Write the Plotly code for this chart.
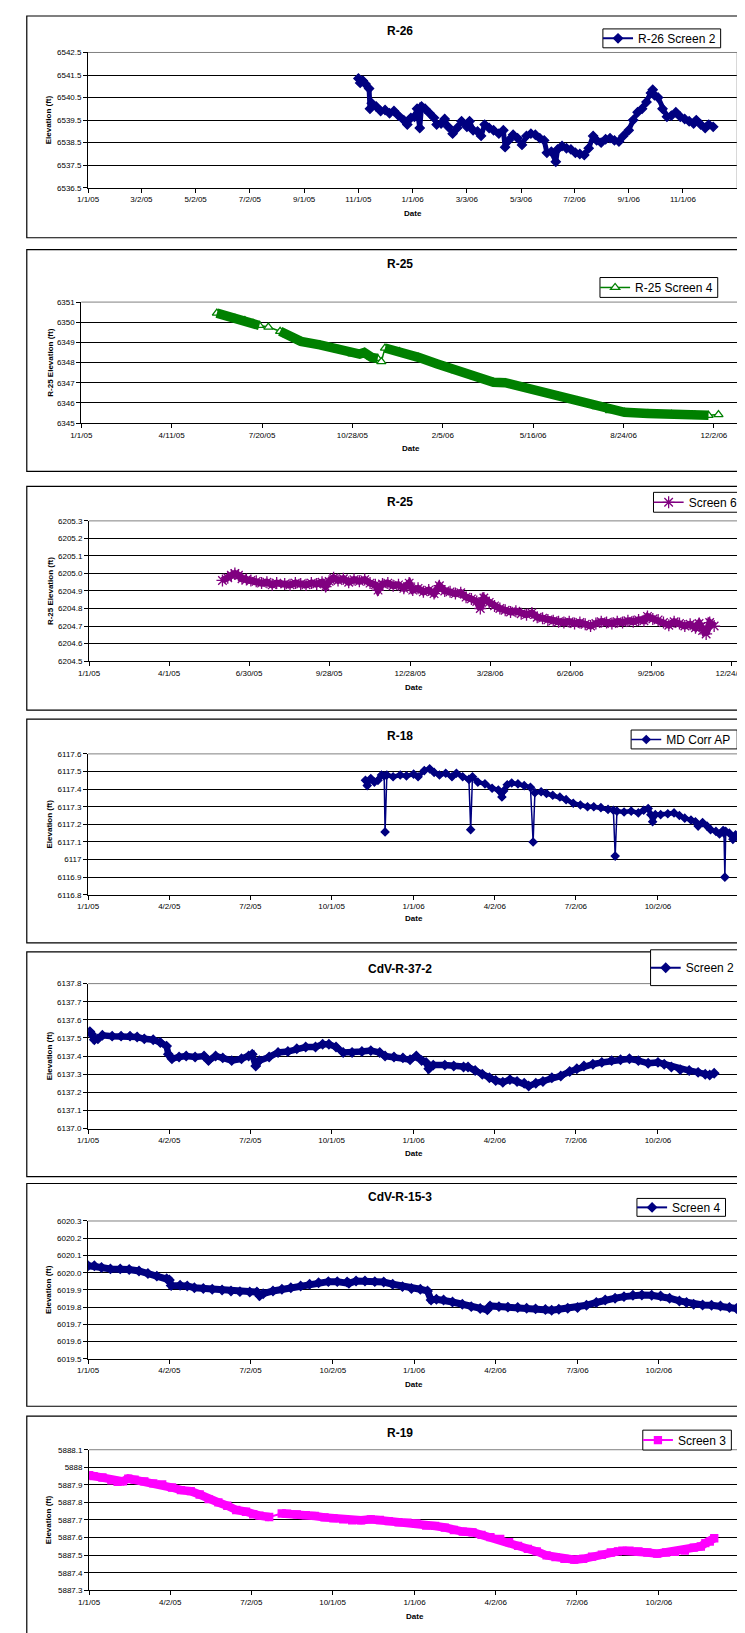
import plotly.graph_objects as go
from datetime import datetime

W, H = 745, 1633
FONT = "Liberation Sans, Arial, Helvetica, sans-serif"
X_RANGE = ["2005-01-01", "2007-01-01"]

# ----------------------------- DATA -----------------------------
# R-26 Screen 2
R26_DATES = [
    "2005-11-01", "2005-11-03", "2005-11-06", "2005-11-09", "2005-11-13", "2005-11-14", "2005-11-16", "2005-11-21", "2005-11-26", "2005-12-01",
    "2005-12-06", "2005-12-11", "2005-12-16", "2005-12-22", "2005-12-26", "2005-12-30", "2006-01-03", "2006-01-06", "2006-01-09", "2006-01-11",
    "2006-01-15", "2006-01-20", "2006-01-25", "2006-01-28", "2006-02-02", "2006-02-06", "2006-02-10", "2006-02-15", "2006-02-20", "2006-02-25",
    "2006-03-03", "2006-03-06", "2006-03-10", "2006-03-15", "2006-03-19", "2006-03-23", "2006-03-28", "2006-04-02", "2006-04-08", "2006-04-13",
    "2006-04-15", "2006-04-19", "2006-04-24", "2006-04-29", "2006-05-04", "2006-05-09", "2006-05-14", "2006-05-19", "2006-05-24", "2006-05-29",
    "2006-06-01", "2006-06-06", "2006-06-11", "2006-06-13", "2006-06-18", "2006-06-23", "2006-06-28", "2006-07-03", "2006-07-08", "2006-07-13",
    "2006-07-18", "2006-07-23", "2006-07-27", "2006-08-01", "2006-08-06", "2006-08-11", "2006-08-16", "2006-08-21", "2006-08-26", "2006-09-01",
    "2006-09-06", "2006-09-11", "2006-09-16", "2006-09-21", "2006-09-26", "2006-09-28", "2006-09-30", "2006-10-04", "2006-10-09", "2006-10-14",
    "2006-10-19", "2006-10-24", "2006-10-29", "2006-11-03", "2006-11-08", "2006-11-13", "2006-11-16", "2006-11-21", "2006-11-26", "2006-11-30",
    "2006-12-05",
]
R26_VALUES = [
    6541.35, 6541.15, 6541.25, 6541.1, 6540.9, 6540.0, 6540.25, 6540.1, 6539.9, 6539.95,
    6539.8, 6539.9, 6539.7, 6539.5, 6539.3, 6539.6, 6539.65, 6540.0, 6539.15, 6540.1,
    6540.0, 6539.8, 6539.6, 6539.3, 6539.35, 6539.55, 6539.2, 6538.9, 6539.15, 6539.45,
    6539.2, 6539.45, 6539.05, 6539.0, 6538.8, 6539.3, 6539.15, 6539.05, 6538.9, 6539.05,
    6538.3, 6538.6, 6538.85, 6538.7, 6538.4, 6538.8, 6538.9, 6538.85, 6538.7, 6538.6,
    6538.05, 6538.1, 6537.65, 6538.2, 6538.35, 6538.25, 6538.2, 6538.05, 6538.0, 6537.95,
    6538.25, 6538.8, 6538.6, 6538.5, 6538.65, 6538.7, 6538.6, 6538.55, 6538.8, 6539.05,
    6539.5, 6539.85, 6540.0, 6540.3, 6540.7, 6540.85, 6540.6, 6540.5, 6540.0, 6539.65,
    6539.7, 6539.85, 6539.65, 6539.55, 6539.45, 6539.35, 6539.5, 6539.3, 6539.15, 6539.3,
    6539.2,
]
R26_XTICKS = ["1/1/05", "3/2/05", "5/2/05", "7/2/05", "9/1/05", "11/1/05",
              "1/1/06", "3/3/06", "5/3/06", "7/2/06", "9/1/06", "11/1/06"]
R26_YTICKS = ["6536.5", "6537.5", "6538.5", "6539.5", "6540.5", "6541.5", "6542.5"]

# R-25 Screen 4
R25S4_DATES = [
    "2005-05-31", "2005-06-10", "2005-06-20", "2005-07-01", "2005-07-10", "2005-07-17", "2005-07-27", "2005-08-09", "2005-08-17", "2005-09-01",
    "2005-09-22", "2005-10-13", "2005-10-28", "2005-11-05", "2005-11-10", "2005-11-18", "2005-11-25", "2005-11-29", "2005-12-03", "2005-12-19",
    "2006-01-09", "2006-01-30", "2006-02-19", "2006-03-12", "2006-04-02", "2006-04-15", "2006-04-28", "2006-05-19", "2006-06-13", "2006-07-04",
    "2006-07-25", "2006-08-09", "2006-08-25", "2006-09-20", "2006-10-16", "2006-11-11", "2006-11-26", "2006-12-07",
]
R25S4_VALUES = [
    6350.45, 6350.3, 6350.2, 6350.08, 6349.95, 6349.84, 6349.76, 6349.55, 6349.37, 6349.05,
    6348.88, 6348.65, 6348.43, 6348.42, 6348.5, 6348.26, 6348.2, 6348.05, 6348.72, 6348.55,
    6348.26, 6347.93, 6347.6, 6347.3, 6347.02, 6347.0, 6346.85, 6346.57, 6346.32, 6346.1,
    6345.82, 6345.62, 6345.53, 6345.47, 6345.43, 6345.4, 6345.38, 6345.42,
]
R25S4_GAPS = [("2005-07-18", "2005-08-08"), ("2005-11-26", "2005-12-02"), ("2006-11-27", "2006-12-31")]
R25S4_XTICKS = ["1/1/05", "4/11/05", "7/20/05", "10/28/05", "2/5/06", "5/16/06", "8/24/06", "12/2/06"]
R25S4_YTICKS = ["6345", "6346", "6347", "6348", "6349", "6350", "6351"]

# R-25 Screen 6
R25S6_DATES = [
    "2005-05-31", "2005-06-06", "2005-06-10", "2005-06-14", "2005-06-18", "2005-06-22", "2005-06-27", "2005-07-02", "2005-07-08", "2005-07-14",
    "2005-07-20", "2005-07-26", "2005-07-31", "2005-08-09", "2005-08-15", "2005-08-21", "2005-08-27", "2005-09-02", "2005-09-08", "2005-09-14",
    "2005-09-20", "2005-09-24", "2005-09-28", "2005-10-03", "2005-10-08", "2005-10-14", "2005-10-20", "2005-10-26", "2005-11-01", "2005-11-07",
    "2005-11-13", "2005-11-19", "2005-11-22", "2005-11-27", "2005-12-03", "2005-12-09", "2005-12-15", "2005-12-21", "2005-12-27", "2005-12-31",
    "2006-01-06", "2006-01-12", "2006-01-18", "2006-01-24", "2006-01-30", "2006-02-05", "2006-02-11", "2006-02-17", "2006-02-23", "2006-03-01",
    "2006-03-07", "2006-03-13", "2006-03-17", "2006-03-21", "2006-03-27", "2006-04-02", "2006-04-08", "2006-04-14", "2006-04-20", "2006-04-26",
    "2006-05-02", "2006-05-08", "2006-05-14", "2006-05-20", "2006-05-26", "2006-06-01", "2006-06-07", "2006-06-13", "2006-06-19", "2006-06-25",
    "2006-07-01", "2006-07-07", "2006-07-13", "2006-07-19", "2006-07-25", "2006-07-31", "2006-08-06", "2006-08-12", "2006-08-18", "2006-08-24",
    "2006-08-30", "2006-09-05", "2006-09-11", "2006-09-17", "2006-09-21", "2006-09-27", "2006-10-03", "2006-10-09", "2006-10-15", "2006-10-21",
    "2006-10-27", "2006-11-02", "2006-11-08", "2006-11-14", "2006-11-18", "2006-11-22", "2006-11-26", "2006-11-30", "2006-12-05",
]
R25S6_VALUES = [
    6204.96, 6204.975, 6204.99, 6205.0, 6204.99, 6204.97, 6204.965, 6204.96, 6204.955, 6204.945,
    6204.95, 6204.935, 6204.945, 6204.94, 6204.935, 6204.945, 6204.94, 6204.935, 6204.945, 6204.94,
    6204.95, 6204.925, 6204.955, 6204.975, 6204.96, 6204.97, 6204.95, 6204.965, 6204.955, 6204.965,
    6204.945, 6204.935, 6204.905, 6204.94, 6204.945, 6204.93, 6204.935, 6204.915, 6204.945, 6204.905,
    6204.915, 6204.895, 6204.905, 6204.885, 6204.93, 6204.9, 6204.895, 6204.885, 6204.89, 6204.865,
    6204.855, 6204.84, 6204.8, 6204.86, 6204.835, 6204.815, 6204.8, 6204.79, 6204.78, 6204.785,
    6204.77, 6204.765, 6204.775, 6204.75, 6204.745, 6204.735, 6204.73, 6204.725, 6204.72, 6204.725,
    6204.715, 6204.72, 6204.71, 6204.7, 6204.715, 6204.725, 6204.72, 6204.715, 6204.725, 6204.72,
    6204.73, 6204.725, 6204.735, 6204.73, 6204.755, 6204.74, 6204.735, 6204.72, 6204.705, 6204.725,
    6204.715, 6204.7, 6204.71, 6204.69, 6204.715, 6204.675, 6204.655, 6204.72, 6204.7,
]
R25S6_XTICKS = ["1/1/05", "4/1/05", "6/30/05", "9/28/05", "12/28/05", "3/28/06", "6/26/06", "9/25/06", "12/24/06"]
R25S6_YTICKS = ["6204.5", "6204.6", "6204.7", "6204.8", "6204.9", "6205.0", "6205.1", "6205.2", "6205.3"]

# R-18 MD Corr AP
R18_DATES = [
    "2005-11-08", "2005-11-10", "2005-11-14", "2005-11-18", "2005-11-22", "2005-11-26", "2005-11-29", "2005-11-30", "2005-12-02", "2005-12-09",
    "2005-12-17", "2005-12-24", "2006-01-01", "2006-01-06", "2006-01-13", "2006-01-19", "2006-01-24", "2006-01-30", "2006-02-06", "2006-02-13",
    "2006-02-18", "2006-02-25", "2006-03-04", "2006-03-06", "2006-03-08", "2006-03-14", "2006-03-22", "2006-03-30", "2006-04-06", "2006-04-10",
    "2006-04-12", "2006-04-16", "2006-04-21", "2006-04-28", "2006-05-05", "2006-05-12", "2006-05-15", "2006-05-17", "2006-05-24", "2006-05-30",
    "2006-06-06", "2006-06-14", "2006-06-21", "2006-06-29", "2006-07-07", "2006-07-15", "2006-07-22", "2006-07-30", "2006-08-07", "2006-08-13",
    "2006-08-15", "2006-08-17", "2006-08-25", "2006-09-02", "2006-09-10", "2006-09-16", "2006-09-21", "2006-09-24", "2006-09-26", "2006-09-29",
    "2006-10-05", "2006-10-13", "2006-10-20", "2006-10-26", "2006-11-01", "2006-11-08", "2006-11-13", "2006-11-16", "2006-11-21", "2006-11-26",
    "2006-11-30", "2006-12-06", "2006-12-10", "2006-12-14", "2006-12-15", "2006-12-16", "2006-12-17", "2006-12-21", "2006-12-25", "2006-12-28",
    "2006-12-31",
]
R18_VALUES = [
    6117.45, 6117.42, 6117.46, 6117.44, 6117.45, 6117.48, 6117.475, 6117.157, 6117.48, 6117.47,
    6117.48, 6117.475, 6117.485, 6117.47, 6117.505, 6117.515, 6117.495, 6117.48, 6117.49, 6117.47,
    6117.49, 6117.47, 6117.455, 6117.17, 6117.47, 6117.44, 6117.43, 6117.405, 6117.395, 6117.355,
    6117.39, 6117.425, 6117.435, 6117.43, 6117.42, 6117.41, 6117.1, 6117.38, 6117.385, 6117.375,
    6117.365, 6117.355, 6117.34, 6117.32, 6117.31, 6117.3, 6117.3, 6117.295, 6117.285, 6117.28,
    6117.02, 6117.275, 6117.27, 6117.275, 6117.265, 6117.28, 6117.29, 6117.255, 6117.215, 6117.255,
    6117.255, 6117.26, 6117.265, 6117.25, 6117.235, 6117.225, 6117.215, 6117.19, 6117.21, 6117.19,
    6117.17, 6117.16, 6117.145, 6117.165, 6117.15, 6116.9, 6117.16, 6117.15, 6117.115, 6117.14,
    6117.125,
]
R18_GAPS = [("2005-11-30", "2005-11-30"), ("2006-03-06", "2006-03-06"), ("2006-05-15", "2006-05-15"),
            ("2006-08-15", "2006-08-15"), ("2006-12-16", "2006-12-16")]
QTR_XTICKS = ["1/1/05", "4/2/05", "7/2/05", "10/1/05", "1/1/06", "4/2/06", "7/2/06", "10/2/06"]
R18_YTICKS = ["6116.8", "6116.9", "6117", "6117.1", "6117.2", "6117.3", "6117.4", "6117.5", "6117.6"]

# CdV-R-37-2 Screen 2
CDV37_DATES = [
    "2005-01-03", "2005-01-05", "2005-01-08", "2005-01-12", "2005-01-17", "2005-01-28", "2005-02-07", "2005-02-17", "2005-02-25", "2005-03-05",
    "2005-03-15", "2005-03-23", "2005-03-30", "2005-04-01", "2005-04-05", "2005-04-13", "2005-04-21", "2005-05-01", "2005-05-11", "2005-05-16",
    "2005-05-24", "2005-06-01", "2005-06-11", "2005-06-22", "2005-06-30", "2005-07-04", "2005-07-08", "2005-07-12", "2005-07-23", "2005-08-02",
    "2005-08-13", "2005-08-23", "2005-09-02", "2005-09-13", "2005-09-21", "2005-09-28", "2005-10-06", "2005-10-14", "2005-10-24", "2005-11-04",
    "2005-11-14", "2005-11-24", "2005-11-30", "2005-12-10", "2005-12-20", "2005-12-28", "2006-01-04", "2006-01-10", "2006-01-15", "2006-01-18",
    "2006-01-23", "2006-02-05", "2006-02-15", "2006-02-26", "2006-03-03", "2006-03-11", "2006-03-19", "2006-03-27", "2006-04-03", "2006-04-11",
    "2006-04-19", "2006-04-27", "2006-05-05", "2006-05-10", "2006-05-18", "2006-05-26", "2006-06-05", "2006-06-15", "2006-06-25", "2006-07-03",
    "2006-07-11", "2006-07-21", "2006-07-31", "2006-08-11", "2006-08-21", "2006-08-31", "2006-09-10", "2006-09-21", "2006-10-02", "2006-10-09",
    "2006-10-17", "2006-10-27", "2006-11-06", "2006-11-16", "2006-11-24", "2006-11-29", "2006-12-04",
]
CDV37_VALUES = [
    6137.535, 6137.52, 6137.49, 6137.495, 6137.515, 6137.51, 6137.51, 6137.51, 6137.505, 6137.495,
    6137.49, 6137.475, 6137.455, 6137.41, 6137.385, 6137.395, 6137.4, 6137.395, 6137.4, 6137.375,
    6137.4, 6137.39, 6137.375, 6137.385, 6137.4, 6137.41, 6137.345, 6137.375, 6137.395, 6137.42,
    6137.425, 6137.44, 6137.45, 6137.45, 6137.465, 6137.465, 6137.45, 6137.42, 6137.42, 6137.425,
    6137.43, 6137.42, 6137.4, 6137.395, 6137.39, 6137.38, 6137.4, 6137.375, 6137.365, 6137.33,
    6137.35, 6137.35, 6137.345, 6137.34, 6137.34, 6137.32, 6137.3, 6137.28, 6137.265, 6137.255,
    6137.27, 6137.26, 6137.25, 6137.235, 6137.25, 6137.26, 6137.28, 6137.29, 6137.315, 6137.33,
    6137.345, 6137.355, 6137.365, 6137.375, 6137.38, 6137.385, 6137.375, 6137.36, 6137.365, 6137.355,
    6137.34, 6137.325, 6137.32, 6137.31, 6137.3, 6137.295, 6137.305,
]
CDV37_YTICKS = ["6137.0", "6137.1", "6137.2", "6137.3", "6137.4", "6137.5", "6137.6", "6137.7", "6137.8"]

# CdV-R-15-3 Screen 4
CDV15_DATES = [
    "2005-01-01", "2005-01-08", "2005-01-16", "2005-01-26", "2005-02-06", "2005-02-16", "2005-02-27", "2005-03-09", "2005-03-19", "2005-03-30",
    "2005-04-02", "2005-04-04", "2005-04-14", "2005-04-22", "2005-04-30", "2005-05-10", "2005-05-20", "2005-05-31", "2005-06-10", "2005-06-20",
    "2005-07-01", "2005-07-09", "2005-07-12", "2005-07-16", "2005-07-27", "2005-08-06", "2005-08-16", "2005-08-27", "2005-09-06", "2005-09-16",
    "2005-09-27", "2005-10-07", "2005-10-18", "2005-10-20", "2005-10-28", "2005-11-07", "2005-11-18", "2005-11-28", "2005-12-08", "2005-12-19",
    "2005-12-29", "2006-01-08", "2006-01-16", "2006-01-20", "2006-01-26", "2006-02-03", "2006-02-13", "2006-02-24", "2006-03-06", "2006-03-16",
    "2006-03-24", "2006-03-27", "2006-04-06", "2006-04-16", "2006-04-27", "2006-05-07", "2006-05-17", "2006-05-28", "2006-06-04", "2006-06-12",
    "2006-06-22", "2006-07-03", "2006-07-13", "2006-07-24", "2006-08-03", "2006-08-14", "2006-08-24", "2006-09-03", "2006-09-13", "2006-09-24",
    "2006-10-04", "2006-10-14", "2006-10-25", "2006-11-02", "2006-11-10", "2006-11-20", "2006-11-30", "2006-12-10", "2006-12-20", "2006-12-28",
]
CDV15_VALUES = [
    6020.04, 6020.04, 6020.03, 6020.022, 6020.022, 6020.018, 6020.01, 6019.995, 6019.98, 6019.965,
    6019.958, 6019.925, 6019.927, 6019.923, 6019.913, 6019.908, 6019.904, 6019.9, 6019.894, 6019.89,
    6019.888, 6019.888, 6019.866, 6019.878, 6019.894, 6019.904, 6019.913, 6019.923, 6019.933, 6019.942,
    6019.948, 6019.948, 6019.946, 6019.938, 6019.952, 6019.952, 6019.948, 6019.946, 6019.933, 6019.919,
    6019.908, 6019.904, 6019.894, 6019.842, 6019.846, 6019.842, 6019.83, 6019.817, 6019.803, 6019.792,
    6019.784, 6019.807, 6019.803, 6019.8, 6019.798, 6019.794, 6019.79, 6019.786, 6019.782, 6019.788,
    6019.794, 6019.798, 6019.811, 6019.827, 6019.842, 6019.852, 6019.861, 6019.869, 6019.871, 6019.869,
    6019.865, 6019.852, 6019.836, 6019.827, 6019.817, 6019.813, 6019.811, 6019.807, 6019.798, 6019.792,
]
CDV15_XTICKS = ["1/1/05", "4/2/05", "7/2/05", "10/2/05", "1/1/06", "4/2/06", "7/3/06", "10/2/06"]
CDV15_YTICKS = ["6019.5", "6019.6", "6019.7", "6019.8", "6019.9", "6020.0", "6020.1", "6020.2", "6020.3"]

# R-19 Screen 3
R19_DATES = [
    "2005-01-01", "2005-01-06", "2005-01-16", "2005-01-26", "2005-02-02", "2005-02-08", "2005-02-14", "2005-02-21", "2005-03-04", "2005-03-14",
    "2005-03-24", "2005-04-04", "2005-04-14", "2005-04-25", "2005-05-05", "2005-05-15", "2005-05-26", "2005-06-05", "2005-06-15", "2005-06-26",
    "2005-07-04", "2005-07-11", "2005-07-22", "2005-08-05", "2005-08-11", "2005-08-22", "2005-09-01", "2005-09-11", "2005-09-22", "2005-10-02",
    "2005-10-13", "2005-10-23", "2005-11-02", "2005-11-13", "2005-11-23", "2005-12-03", "2005-12-14", "2005-12-24", "2006-01-03", "2006-01-14",
    "2006-01-24", "2006-02-04", "2006-02-14", "2006-02-24", "2006-03-07", "2006-03-17", "2006-03-27", "2006-04-07", "2006-04-17", "2006-04-27",
    "2006-05-08", "2006-05-18", "2006-05-29", "2006-06-08", "2006-06-18", "2006-06-29", "2006-07-09", "2006-07-19", "2006-07-30", "2006-08-09",
    "2006-08-17", "2006-08-22", "2006-08-30", "2006-09-09", "2006-09-19", "2006-09-30", "2006-10-10", "2006-10-20", "2006-10-31", "2006-11-10",
    "2006-11-18", "2006-11-23", "2006-11-28", "2006-12-03",
]
R19_VALUES = [
    5887.955, 5887.95, 5887.942, 5887.926, 5887.917, 5887.92, 5887.936, 5887.93, 5887.92, 5887.908,
    5887.902, 5887.885, 5887.87, 5887.864, 5887.845, 5887.819, 5887.8, 5887.781, 5887.757, 5887.747,
    5887.732, 5887.725, 5887.717, 5887.737, 5887.736, 5887.732, 5887.728, 5887.723, 5887.715, 5887.709,
    5887.704, 5887.698, 5887.698, 5887.704, 5887.7, 5887.694, 5887.687, 5887.685, 5887.681, 5887.668,
    5887.666, 5887.657, 5887.643, 5887.634, 5887.63, 5887.615, 5887.602, 5887.592, 5887.574, 5887.553,
    5887.536, 5887.521, 5887.498, 5887.489, 5887.479, 5887.474, 5887.479, 5887.492, 5887.502, 5887.515,
    5887.521, 5887.525, 5887.525, 5887.521, 5887.515, 5887.508, 5887.515, 5887.519, 5887.526, 5887.543,
    5887.549, 5887.568, 5887.577, 5887.596,
]
R19_GAPS = [("2005-07-23", "2005-08-04"), ("2006-08-18", "2006-08-21")]
R19_YTICKS = ["5887.3", "5887.4", "5887.5", "5887.6", "5887.7", "5887.8", "5887.9", "5888", "5888.1"]

# ----------------------------- LAYOUT CONFIG -----------------------------
NAVY, GREEN, PURPLE, MAGENTA = "#000080", "#008000", "#800080", "#FF00FF"

PANELS = [
    dict(title="R-26", ytitle="Elevation (ft)", name="R-26 Screen 2",
         dates=R26_DATES, values=R26_VALUES, gaps=[], xt=R26_XTICKS, yt=R26_YTICKS,
         box=(4, 227), plot=(71, 738, 40.7, 176.7), title_y=19, date_y=203, ytitle_x=30,
         leg=(600, 721, 17, 36),
         style=dict(color=NAVY, symbol="diamond", msize=7, mfill=NAVY, lw=2, band=5)),
    dict(title="R-25", ytitle="R-25 Elevation (ft)", name="R-25 Screen 4",
         dates=R25S4_DATES, values=R25S4_VALUES, gaps=R25S4_GAPS, xt=R25S4_XTICKS, yt=R25S4_YTICKS,
         box=(239, 462), plot=(64, 742, 291.7, 413.3), title_y=253, date_y=439, ytitle_x=32,
         leg=(597, 718, 267, 287),
         style=dict(color=GREEN, symbol="triangle-up", msize=8, mfill="white", lw=1.5, band=9.5)),
    dict(title="R-25", ytitle="R-25 Elevation (ft)", name="Screen 6",
         dates=R25S6_DATES, values=R25S6_VALUES, gaps=[], xt=R25S6_XTICKS, yt=R25S6_YTICKS,
         box=(477, 702), plot=(72, 739, 511.7, 652.7), title_y=493, date_y=679, ytitle_x=33,
         leg=(652, 770, 483, 503),
         style=dict(color=PURPLE, symbol="asterisk-open", msize=10, mfill=PURPLE, lw=1.5, band=7)),
    dict(title="R-18", ytitle="Elevation (ft)", name="MD Corr AP",
         dates=R18_DATES, values=R18_VALUES, gaps=R18_GAPS, xt=QTR_XTICKS, yt=R18_YTICKS,
         box=(711, 936), plot=(71, 740, 746, 887.7), title_y=728, date_y=912, ytitle_x=31,
         leg=(629, 738, 722, 741),
         style=dict(color=NAVY, symbol="diamond", msize=6, mfill=NAVY, lw=1.5, band=4.5)),
    dict(title="CdV-R-37-2", ytitle="Elevation (ft)", name="Screen 2",
         dates=CDV37_DATES, values=CDV37_VALUES, gaps=[], xt=QTR_XTICKS, yt=CDV37_YTICKS,
         box=(945, 1171), plot=(71, 740, 977, 1122.7), title_y=962, date_y=1148, ytitle_x=31,
         leg=(649, 770, 943, 979),
         style=dict(color=NAVY, symbol="diamond", msize=7, mfill=NAVY, lw=2, band=6.5)),
    dict(title="CdV-R-15-3", ytitle="Elevation (ft)", name="Screen 4",
         dates=CDV15_DATES, values=CDV15_VALUES, gaps=[], xt=CDV15_XTICKS, yt=CDV15_YTICKS,
         box=(1178, 1402), plot=(71, 741, 1215.7, 1354.3), title_y=1192, date_y=1380, ytitle_x=31,
         leg=(635, 726, 1193, 1211),
         style=dict(color=NAVY, symbol="diamond", msize=7, mfill=NAVY, lw=2, band=7)),
    dict(title="R-19", ytitle="Elevation (ft)", name="Screen 3",
         dates=R19_DATES, values=R19_VALUES, gaps=R19_GAPS, xt=QTR_XTICKS, yt=R19_YTICKS,
         box=(1412, 1660), plot=(72, 741, 1445.7, 1587), title_y=1429, date_y=1613, ytitle_x=31,
         leg=(641, 732, 1426, 1446),
         style=dict(color=MAGENTA, symbol="square", msize=7, mfill=MAGENTA, lw=2, band=8.5)),
]

for p in PANELS:
    assert len(p["dates"]) == len(p["values"]), p["name"]


def px(xp):
    return xp / W


def py(yp):
    return 1 - yp / H


def tick_dates(labels):
    return [datetime.strptime(s, "%m/%d/%y").strftime("%Y-%m-%d") for s in labels]


def in_gap(d, gaps):
    return any(g0 <= d <= g1 for g0, g1 in gaps)


def band_segments(dates, values, gaps):
    segs, cur, prev = [], [], None
    for d, v in zip(dates, values):
        if in_gap(d, gaps):
            if cur:
                segs.append(cur)
            cur, prev = [], None
            continue
        if cur and any(prev < g0 and g1 < d for g0, g1 in gaps):
            segs.append(cur)
            cur = []
        cur.append((d, v))
        prev = d
    if cur:
        segs.append(cur)
    return segs


fig = go.Figure()
shapes, annotations = [], []
layout = {}

for i, p in enumerate(PANELS, start=1):
    sfx = "" if i == 1 else str(i)
    xa, ya = "x" + sfx, "y" + sfx
    leg_id = "legend" + sfx
    st = p["style"]
    x0, x1, y0, y1 = p["plot"]

    # dense logging shown as a thick band
    band_traces = []
    if st["band"]:
        for seg in band_segments(p["dates"], p["values"], p["gaps"] or []):
            band_traces.append(go.Scatter(
                x=[d for d, _ in seg], y=[v for _, v in seg], mode="lines",
                xaxis=xa, yaxis=ya, showlegend=False, hoverinfo="skip",
                line=dict(color=st["color"], width=st["band"])))

    marker = dict(symbol=st["symbol"], size=st["msize"], color=st["mfill"],
                  line=dict(color=st["color"], width=1.3))
    main = go.Scatter(
        x=p["dates"], y=p["values"], mode="lines+markers", name=p["name"],
        xaxis=xa, yaxis=ya, legend=leg_id, showlegend=True,
        line=dict(color=st["color"], width=st["lw"]), marker=marker, hoverinfo="skip")

    if st["symbol"].startswith("asterisk"):
        for t in band_traces:
            fig.add_trace(t)
        fig.add_trace(main)
    else:
        fig.add_trace(main)
        for t in band_traces:
            fig.add_trace(t)

    yvals = [float(t) for t in p["yt"]]
    tickfont = dict(size=8, family=FONT, color="black")
    layout["xaxis" + sfx] = dict(
        domain=[px(x0), px(x1)], anchor=ya, type="date", range=X_RANGE,
        tickvals=tick_dates(p["xt"]), ticktext=p["xt"], tickmode="array",
        ticks="outside", ticklen=4, tickwidth=1, tickcolor="black",
        showline=True, linecolor="black", linewidth=1, showgrid=False, zeroline=False,
        tickfont=tickfont, ticklabeloverflow="allow", fixedrange=True)
    layout["yaxis" + sfx] = dict(
        domain=[py(y1), py(y0)], anchor=xa, range=[min(yvals), max(yvals)],
        tickvals=yvals, ticktext=p["yt"], tickmode="array",
        ticks="outside", ticklen=4, tickwidth=1, tickcolor="black",
        showline=True, linecolor="black", linewidth=1,
        showgrid=True, gridcolor="black", gridwidth=1, zeroline=False,
        tickfont=tickfont, fixedrange=True)

    # chart border (right side runs off the page)
    bt, bb = p["box"]
    shapes.append(dict(type="rect", xref="paper", yref="paper", x0=px(8), x1=px(775),
                       y0=py(bb), y1=py(bt), line=dict(color="black", width=1.2),
                       fillcolor="rgba(0,0,0,0)", layer="below"))
    # grey plot-area frame (top & right)
    shapes.append(dict(type="line", xref="paper", yref="paper", x0=px(x0), x1=px(x1),
                       y0=py(y0), y1=py(y0), line=dict(color="#808080", width=1), layer="above"))
    shapes.append(dict(type="line", xref="paper", yref="paper", x0=px(x1), x1=px(x1),
                       y0=py(y1), y1=py(y0), line=dict(color="#808080", width=1), layer="above"))
    # legend box
    lx0, lx1, ly0, ly1 = p["leg"]
    shapes.append(dict(type="rect", xref="paper", yref="paper", x0=px(lx0), x1=px(lx1),
                       y0=py(ly1), y1=py(ly0), line=dict(color="black", width=1),
                       fillcolor="white", layer="above"))
    layout[leg_id] = dict(x=px(lx0 - 5), y=py((ly0 + ly1) / 2), xanchor="left", yanchor="middle",
                          bgcolor="rgba(0,0,0,0)", borderwidth=0, itemwidth=30,
                          font=dict(size=12, family=FONT, color="black"))

    # texts
    annotations.append(dict(text="<b>%s</b>" % p["title"], xref="paper", yref="paper",
                            x=px(392), y=py(p["title_y"]), xanchor="center", yanchor="middle",
                            showarrow=False, font=dict(size=12, family=FONT, color="black")))
    annotations.append(dict(text="<b>Date</b>", xref="paper", yref="paper",
                            x=px((x0 + x1) / 2), y=py(p["date_y"]), xanchor="center", yanchor="middle",
                            showarrow=False, font=dict(size=8, family=FONT, color="black")))
    annotations.append(dict(text="<b>%s</b>" % p["ytitle"], xref="paper", yref="paper",
                            x=px(p["ytitle_x"]), y=py((y0 + y1) / 2), xanchor="center", yanchor="middle",
                            textangle=-90, showarrow=False,
                            font=dict(size=8, family=FONT, color="black")))

fig.update_layout(
    width=W, height=H, margin=dict(l=0, r=0, t=0, b=0, pad=0),
    paper_bgcolor="white", plot_bgcolor="white", hovermode=False,
    font=dict(family=FONT, color="black"),
    shapes=shapes, annotations=annotations, **layout)

fig.write_html("out.html")
